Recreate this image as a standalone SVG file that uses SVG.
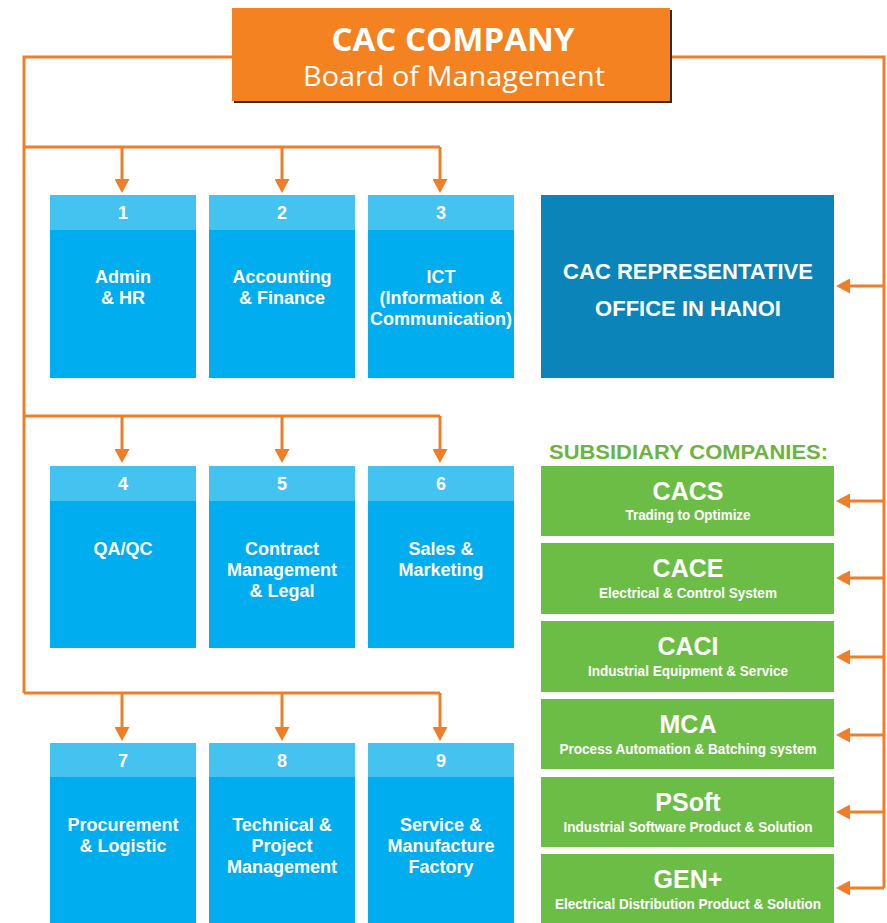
<svg xmlns="http://www.w3.org/2000/svg" width="887" height="923" viewBox="0 0 887 923">
<style>
.conn{fill:none;stroke:#F07D28;stroke-width:3}
.hdr{fill:#45C3F0}
.body{fill:#00ADEE}
.rep{fill:#0A84B9}
.grn{fill:#6CBD45}
.num{font-family:"Liberation Sans",Arial,sans-serif;font-weight:bold;font-size:18px;fill:#fff;text-anchor:middle}
.lbl{font-family:"Liberation Sans",Arial,sans-serif;font-weight:bold;font-size:18px;fill:#fff;text-anchor:middle}
.rept{font-family:"Liberation Sans",Arial,sans-serif;font-weight:bold;font-size:22px;fill:#fff;text-anchor:middle}
.gt{font-family:"Liberation Sans",Arial,sans-serif;font-weight:bold;font-size:25px;fill:#fff;text-anchor:middle}
.gs{font-family:"Liberation Sans",Arial,sans-serif;font-weight:bold;font-size:14px;fill:#fff;text-anchor:middle}
.sub{font-family:"Liberation Sans",Arial,sans-serif;font-weight:bold;font-size:20px;fill:#6DB33F}
.t1{font-family:"Open Sans","Liberation Sans",sans-serif;font-weight:bold;font-size:32px;fill:#fff;text-anchor:middle}
.t2{font-family:"Open Sans","Liberation Sans",sans-serif;font-size:28px;fill:#fff;text-anchor:middle}
</style>
<defs>
<marker id="ah" viewBox="0 0 14 15" refX="10" refY="7.5" markerWidth="14" markerHeight="15" markerUnits="userSpaceOnUse" orient="auto">
<path d="M0,0 L14,7.5 L0,15 z" fill="#F07D28"/>
</marker>
</defs>
<rect width="887" height="923" fill="#fff"/>

<g id="connectors">
<path class="conn" d="M232,57 H24 V693"/>
<path class="conn" d="M670,57 H884 V888"/>
<path class="conn" d="M24,147 H440"/>
<path class="conn" d="M24,416 H440"/>
<path class="conn" d="M24,693 H440"/>
<path class="conn" marker-end="url(#ah)" d="M122,147 V189"/>
<path class="conn" marker-end="url(#ah)" d="M282,147 V189"/>
<path class="conn" marker-end="url(#ah)" d="M440,147 V189"/>
<path class="conn" marker-end="url(#ah)" d="M122,416 V459"/>
<path class="conn" marker-end="url(#ah)" d="M282,416 V459"/>
<path class="conn" marker-end="url(#ah)" d="M440,416 V459"/>
<path class="conn" marker-end="url(#ah)" d="M122,693 V737"/>
<path class="conn" marker-end="url(#ah)" d="M282,693 V737"/>
<path class="conn" marker-end="url(#ah)" d="M440,693 V737"/>
<path class="conn" marker-end="url(#ah)" d="M884,286 H840"/>
<path class="conn" marker-end="url(#ah)" d="M884,501 H840"/>
<path class="conn" marker-end="url(#ah)" d="M884,578 H840"/>
<path class="conn" marker-end="url(#ah)" d="M884,657 H840"/>
<path class="conn" marker-end="url(#ah)" d="M884,735 H840"/>
<path class="conn" marker-end="url(#ah)" d="M884,812 H840"/>
<path class="conn" marker-end="url(#ah)" d="M884,888 H840"/>
</g>

<g id="board">
<rect x="234" y="10" width="438" height="93" fill="#3b2a1c"/>
<rect x="232" y="8" width="438" height="93" fill="#F58220"/>
<text class="t1" x="453" y="51" textLength="243" lengthAdjust="spacingAndGlyphs">CAC COMPANY</text>
<text class="t2" x="454" y="86" textLength="302" lengthAdjust="spacingAndGlyphs">Board of Management</text>
</g>

<g id="d1">
<rect class="body" x="50" y="195" width="146" height="183"/>
<rect class="hdr" x="50" y="195" width="146" height="35"/>
<text class="num" x="123" y="219">1</text>
<text class="lbl" x="123" y="283">Admin</text>
<text class="lbl" x="123" y="304">&amp; HR</text>
</g>
<g id="d2">
<rect class="body" x="209" y="195" width="146" height="183"/>
<rect class="hdr" x="209" y="195" width="146" height="35"/>
<text class="num" x="282" y="219">2</text>
<text class="lbl" x="282" y="283">Accounting</text>
<text class="lbl" x="282" y="304">&amp; Finance</text>
</g>
<g id="d3">
<rect class="body" x="368" y="195" width="146" height="183"/>
<rect class="hdr" x="368" y="195" width="146" height="35"/>
<text class="num" x="441" y="219">3</text>
<text class="lbl" x="441" y="283">ICT</text>
<text class="lbl" x="441" y="304">(Information &amp;</text>
<text class="lbl" x="441" y="325">Communication)</text>
</g>

<g id="d4">
<rect class="body" x="50" y="466" width="146" height="182"/>
<rect class="hdr" x="50" y="466" width="146" height="35"/>
<text class="num" x="123" y="490">4</text>
<text class="lbl" x="123" y="555">QA/QC</text>
</g>
<g id="d5">
<rect class="body" x="209" y="466" width="146" height="182"/>
<rect class="hdr" x="209" y="466" width="146" height="35"/>
<text class="num" x="282" y="490">5</text>
<text class="lbl" x="282" y="555">Contract</text>
<text class="lbl" x="282" y="576">Management</text>
<text class="lbl" x="282" y="597">&amp; Legal</text>
</g>
<g id="d6">
<rect class="body" x="368" y="466" width="146" height="182"/>
<rect class="hdr" x="368" y="466" width="146" height="35"/>
<text class="num" x="441" y="490">6</text>
<text class="lbl" x="441" y="555">Sales &amp;</text>
<text class="lbl" x="441" y="576">Marketing</text>
</g>

<g id="d7">
<rect class="body" x="50" y="743" width="146" height="182"/>
<rect class="hdr" x="50" y="743" width="146" height="34"/>
<text class="num" x="123" y="767">7</text>
<text class="lbl" x="123" y="831">Procurement</text>
<text class="lbl" x="123" y="852">&amp; Logistic</text>
</g>
<g id="d8">
<rect class="body" x="209" y="743" width="146" height="182"/>
<rect class="hdr" x="209" y="743" width="146" height="34"/>
<text class="num" x="282" y="767">8</text>
<text class="lbl" x="282" y="831">Technical &amp;</text>
<text class="lbl" x="282" y="852">Project</text>
<text class="lbl" x="282" y="873">Management</text>
</g>
<g id="d9">
<rect class="body" x="368" y="743" width="146" height="182"/>
<rect class="hdr" x="368" y="743" width="146" height="34"/>
<text class="num" x="441" y="767">9</text>
<text class="lbl" x="441" y="831">Service &amp;</text>
<text class="lbl" x="441" y="852">Manufacture</text>
<text class="lbl" x="441" y="873">Factory</text>
</g>

<g id="rep">
<rect class="rep" x="541" y="195" width="293" height="183"/>
<text class="rept" x="688" y="279">CAC REPRESENTATIVE</text>
<text class="rept" x="688" y="316">OFFICE IN HANOI</text>
</g>

<g id="subtitle">
<text class="sub" x="549" y="459" textLength="279" lengthAdjust="spacingAndGlyphs">SUBSIDIARY COMPANIES:</text>
</g>

<g id="cacs">
<rect class="grn" x="541" y="466" width="293" height="70"/>
<text class="gt" x="688" y="500">CACS</text>
<text class="gs" x="688" y="520" textLength="125" lengthAdjust="spacingAndGlyphs">Trading to Optimize</text>
</g>
<g id="cace">
<rect class="grn" x="541" y="543" width="293" height="71"/>
<text class="gt" x="688" y="577">CACE</text>
<text class="gs" x="688" y="598" textLength="178" lengthAdjust="spacingAndGlyphs">Electrical &amp; Control System</text>
</g>
<g id="caci">
<rect class="grn" x="541" y="621" width="293" height="71"/>
<text class="gt" x="688" y="655">CACI</text>
<text class="gs" x="688" y="676" textLength="200" lengthAdjust="spacingAndGlyphs">Industrial Equipment &amp; Service</text>
</g>
<g id="mca">
<rect class="grn" x="541" y="699" width="293" height="70"/>
<text class="gt" x="688" y="733">MCA</text>
<text class="gs" x="688" y="754" textLength="257" lengthAdjust="spacingAndGlyphs">Process Automation &amp; Batching system</text>
</g>
<g id="psoft">
<rect class="grn" x="541" y="777" width="293" height="70"/>
<text class="gt" x="688" y="811">PSoft</text>
<text class="gs" x="688" y="832" textLength="249" lengthAdjust="spacingAndGlyphs">Industrial Software Product &amp; Solution</text>
</g>
<g id="genplus">
<rect class="grn" x="541" y="854" width="293" height="72"/>
<text class="gt" x="688" y="888">GEN+</text>
<text class="gs" x="688" y="909" textLength="266" lengthAdjust="spacingAndGlyphs">Electrical Distribution Product &amp; Solution</text>
</g>
</svg>
